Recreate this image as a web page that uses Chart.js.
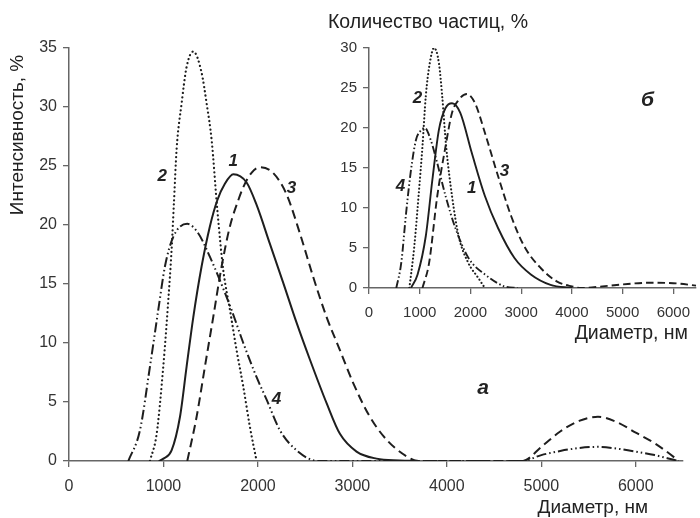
<!DOCTYPE html>
<html>
<head>
<meta charset="utf-8">
<script src="https://cdn.jsdelivr.net/npm/chart.js@4.4.1/dist/chart.umd.min.js"></script>
<style>
  html, body { margin: 0; padding: 0; background: #fff; overflow: hidden; }
  #wrap { position: relative; width: 700px; height: 518px; }
  #main { position: absolute; left: 0; top: 0; }
  #inset { position: absolute; left: 300px; top: 0; }
</style>
</head>
<body>
<div id="wrap">
  <canvas id="main" width="700" height="518"></canvas>
  <canvas id="inset" width="400" height="350"></canvas>
</div>
<script>
// ---- main plot (a): intensity, % ----
const mainX1 = [950, 1000, 1086, 1175, 1245, 1316, 1404, 1492, 1570, 1650, 1740, 1880, 1986, 2127, 2268, 2410, 2550, 2727, 2868, 3044, 3256, 3500, 3700];
const mainY1 = [0, 0.2, 0.9, 3.75, 8.0, 12.2, 16.5, 19.9, 22.1, 23.5, 24.3, 23.6, 21.7, 18.4, 15.1, 11.7, 8.6, 4.9, 2.3, 0.8, 0.2, 0.05, 0];

const mainX2 = [857, 928, 998, 1051, 1086, 1111, 1139, 1192, 1245, 1316, 1404, 1457, 1510, 1570, 1633, 1704, 1774, 1845, 1915, 1986];
const mainY2 = [0, 2.3, 8.0, 13.6, 17.9, 21.9, 26.4, 30.3, 33.4, 34.7, 32.9, 30.3, 27.2, 21.3, 16.2, 12.8, 9.4, 6.3, 2.9, 0];

const mainX3 = [1252, 1351, 1439, 1527, 1616, 1704, 1792, 1845, 1930, 2021, 2162, 2303, 2444, 2585, 2727, 2868, 3009, 3185, 3362, 3573, 3700, 4000, 4400, 4800, 5000, 5200, 5400, 5600, 5800, 6000, 6200, 6400, 6450];
const mainY3 = [0, 3.75, 8.0, 12.2, 16.5, 19.9, 22.1, 23.2, 24.4, 24.9, 24.4, 22.6, 19.3, 15.6, 12.2, 9.4, 6.6, 3.75, 1.8, 0.4, 0, 0, 0, 0, 1.2, 2.5, 3.4, 3.75, 3.3, 2.4, 1.5, 0.35, 0];

const mainX4 = [628, 751, 857, 945, 1016, 1104, 1252, 1368, 1492, 1598, 1721, 1845, 1986, 2092, 2233, 2410, 2635, 3000, 4000, 4800, 5000, 5200, 5400, 5600, 5800, 6000, 6200, 6400, 6450];
const mainY4 = [0, 2.6, 8.0, 12.8, 16.5, 19.0, 20.1, 19.3, 17.3, 15.3, 12.8, 10.0, 7.1, 5.2, 2.6, 0.9, 0, 0, 0, 0, 0.5, 0.85, 1.1, 1.2, 1.05, 0.8, 0.5, 0.1, 0];

const mainXTicks = [0, 1000, 2000, 3000, 4000, 5000, 6000];
const mainYTicks = [0, 5, 10, 15, 20, 25, 30, 35];

// ---- inset (б): number of particles, % ----
const insetX1 = [829, 958, 1120, 1249, 1379, 1509, 1637, 1800, 2026, 2285, 2544, 2868, 3191, 3579, 4000];
const insetY1 = [0, 1.7, 6.5, 13.5, 19.8, 22.5, 23.1, 21.9, 16.9, 11.5, 7.5, 3.75, 1.7, 0.4, 0];

const insetX2 = [796, 893, 977, 1054, 1120, 1198, 1282, 1379, 1443, 1521, 1637, 1767, 1961, 2155, 2285];
const insetY2 = [0, 5.2, 11.5, 17.7, 24, 28.1, 30, 28.1, 24, 17.7, 11.5, 6.5, 3.1, 1.25, 0];

const insetX3 = [1054, 1184, 1346, 1509, 1637, 1767, 1929, 2091, 2285, 2544, 2802, 3062, 3385, 3709, 4000, 4200, 4600, 5000, 5500, 6000, 6450];
const insetY3 = [0, 3.1, 11.5, 17.7, 21.9, 23.5, 24.25, 23.1, 19.4, 14, 9, 5.2, 2.5, 0.8, 0.2, 0, 0.2, 0.45, 0.65, 0.6, 0.3];

const insetX4 = [538, 635, 732, 829, 926, 1010, 1101, 1217, 1346, 1509, 1703, 1961, 2285, 2673, 2930];
const insetY4 = [0, 3.1, 9.4, 14.8, 18.5, 19.6, 20, 18.5, 15.6, 11.5, 7.5, 3.75, 1.7, 0.2, 0];

const insetXTicks = [0, 1000, 2000, 3000, 4000, 5000, 6000];
const insetYTicks = [0, 5, 10, 15, 20, 25, 30];

const lineColor = '#1e1e1e';
const axisColor = '#666';
const tickColor = '#333';
const fontFam = '"Liberation Sans", Arial, sans-serif';

const labelFont = 'italic bold 17px ' + fontFam;
const letterFont = 'italic bold 21px ' + fontFam;
const titleFont = '19px ' + fontFam;
const insetTitleFont = '19.5px ' + fontFam;

// curve numbers and panel letters sit at data coords, titles at pixel coords
const mainTexts = [
  { text: '1', at: [1739, 25.4], font: labelFont },
  { text: '2', at: [987, 24.1], font: labelFont },
  { text: '3', at: [2356, 23.1], font: labelFont },
  { text: '4', at: [2197, 5.2], font: labelFont },
  { text: 'а', at: [4384, 6.2], font: letterFont },
  { text: 'Диаметр, нм', px: [648, 508], font: titleFont, align: 'right' },
  { text: 'Интенсивность, %', px: [18, 135], font: titleFont, rotate: true }
];
const insetTexts = [
  { text: '1', at: [2025, 12.5], font: labelFont },
  { text: '2', at: [957, 23.75], font: labelFont },
  { text: '3', at: [2673, 14.6], font: labelFont },
  { text: '4', at: [621, 12.7], font: labelFont },
  { text: 'б', at: [5489, 23.5], font: letterFont },
  { text: 'Диаметр, нм', px: [388, 334], font: insetTitleFont, align: 'right' },
  { text: 'Количество частиц, %', px: [128, 23], font: insetTitleFont }
];

const pts = (xs, ys) => xs.map((x, i) => ({ x: x, y: ys[i] }));

const series = (xs, ys, dash, cap, width) => ({
  data: pts(xs, ys),
  borderColor: lineColor,
  borderWidth: width,
  borderDash: dash,
  borderCapStyle: cap,
  cubicInterpolationMode: 'monotone',
  pointRadius: 0,
  fill: false
});

const textPlugin = (items) => ({
  id: 'texts',
  afterDraw(chart) {
    const ctx = chart.ctx;
    const sx = chart.scales.x, sy = chart.scales.y;
    ctx.save();
    ctx.fillStyle = '#222';
    ctx.textBaseline = 'middle';
    items.forEach((t) => {
      ctx.font = t.font;
      ctx.textAlign = t.align || 'center';
      const x = t.at ? sx.getPixelForValue(t.at[0]) : t.px[0];
      const y = t.at ? sy.getPixelForValue(t.at[1]) : t.px[1];
      if (t.rotate) {
        ctx.save();
        ctx.translate(x, y);
        ctx.rotate(-Math.PI / 2);
        ctx.fillText(t.text, 0, 0);
        ctx.restore();
      } else {
        ctx.fillText(t.text, x, y);
      }
    });
    ctx.restore();
  }
});

const axisOpts = (min, max, ticks, tickFont, size, horizontal) => ({
  type: 'linear',
  min: min,
  max: max,
  afterBuildTicks: (s) => { s.ticks = ticks.map((v) => ({ value: v })); },
  afterFit: (s) => { if (horizontal) s.height = size; else s.width = size; },
  grid: { display: true, drawOnChartArea: false, drawTicks: true, tickLength: 6, color: axisColor, lineWidth: 1.3 },
  border: { display: true, color: axisColor, width: 1.5 },
  ticks: {
    color: tickColor,
    font: { family: fontFam, size: tickFont },
    padding: horizontal ? 10 : 6,
    callback: (v) => String(v)
  }
});

new Chart(document.getElementById('main'), {
  type: 'line',
  data: {
    datasets: [
      series(mainX1, mainY1, [], 'butt', 2),
      series(mainX2, mainY2, [0.1, 4.2], 'round', 2.2),
      series(mainX3, mainY3, [9, 5], 'butt', 2),
      series(mainX4, mainY4, [10, 3, 1.5, 3, 1.5, 3], 'butt', 2)
    ]
  },
  options: {
    responsive: false,
    animation: false,
    devicePixelRatio: 1,
    layout: { padding: { top: 48, right: 17, left: 0, bottom: 0 } },
    plugins: { legend: { display: false }, tooltip: { enabled: false } },
    scales: {
      x: axisOpts(0, 6500, mainXTicks, 16, 57, true),
      y: axisOpts(0, 35, mainYTicks, 16, 69, false)
    }
  },
  plugins: [textPlugin(mainTexts)]
});

new Chart(document.getElementById('inset'), {
  type: 'line',
  data: {
    datasets: [
      series(insetX1, insetY1, [], 'butt', 1.9),
      series(insetX2, insetY2, [0.1, 3.6], 'round', 2.1),
      series(insetX3, insetY3, [7.5, 4], 'butt', 1.9),
      series(insetX4, insetY4, [8, 2.5, 1.5, 2.5, 1.5, 2.5], 'butt', 1.9)
    ]
  },
  options: {
    responsive: false,
    animation: false,
    devicePixelRatio: 1,
    layout: { padding: { top: 48, right: 0, left: 0, bottom: 0 } },
    plugins: { legend: { display: false }, tooltip: { enabled: false } },
    scales: {
      x: axisOpts(0, 6450, insetXTicks, 15, 62, true),
      y: axisOpts(0, 30, insetYTicks, 15, 69, false)
    }
  },
  plugins: [textPlugin(insetTexts)]
});
</script>
</body>
</html>
